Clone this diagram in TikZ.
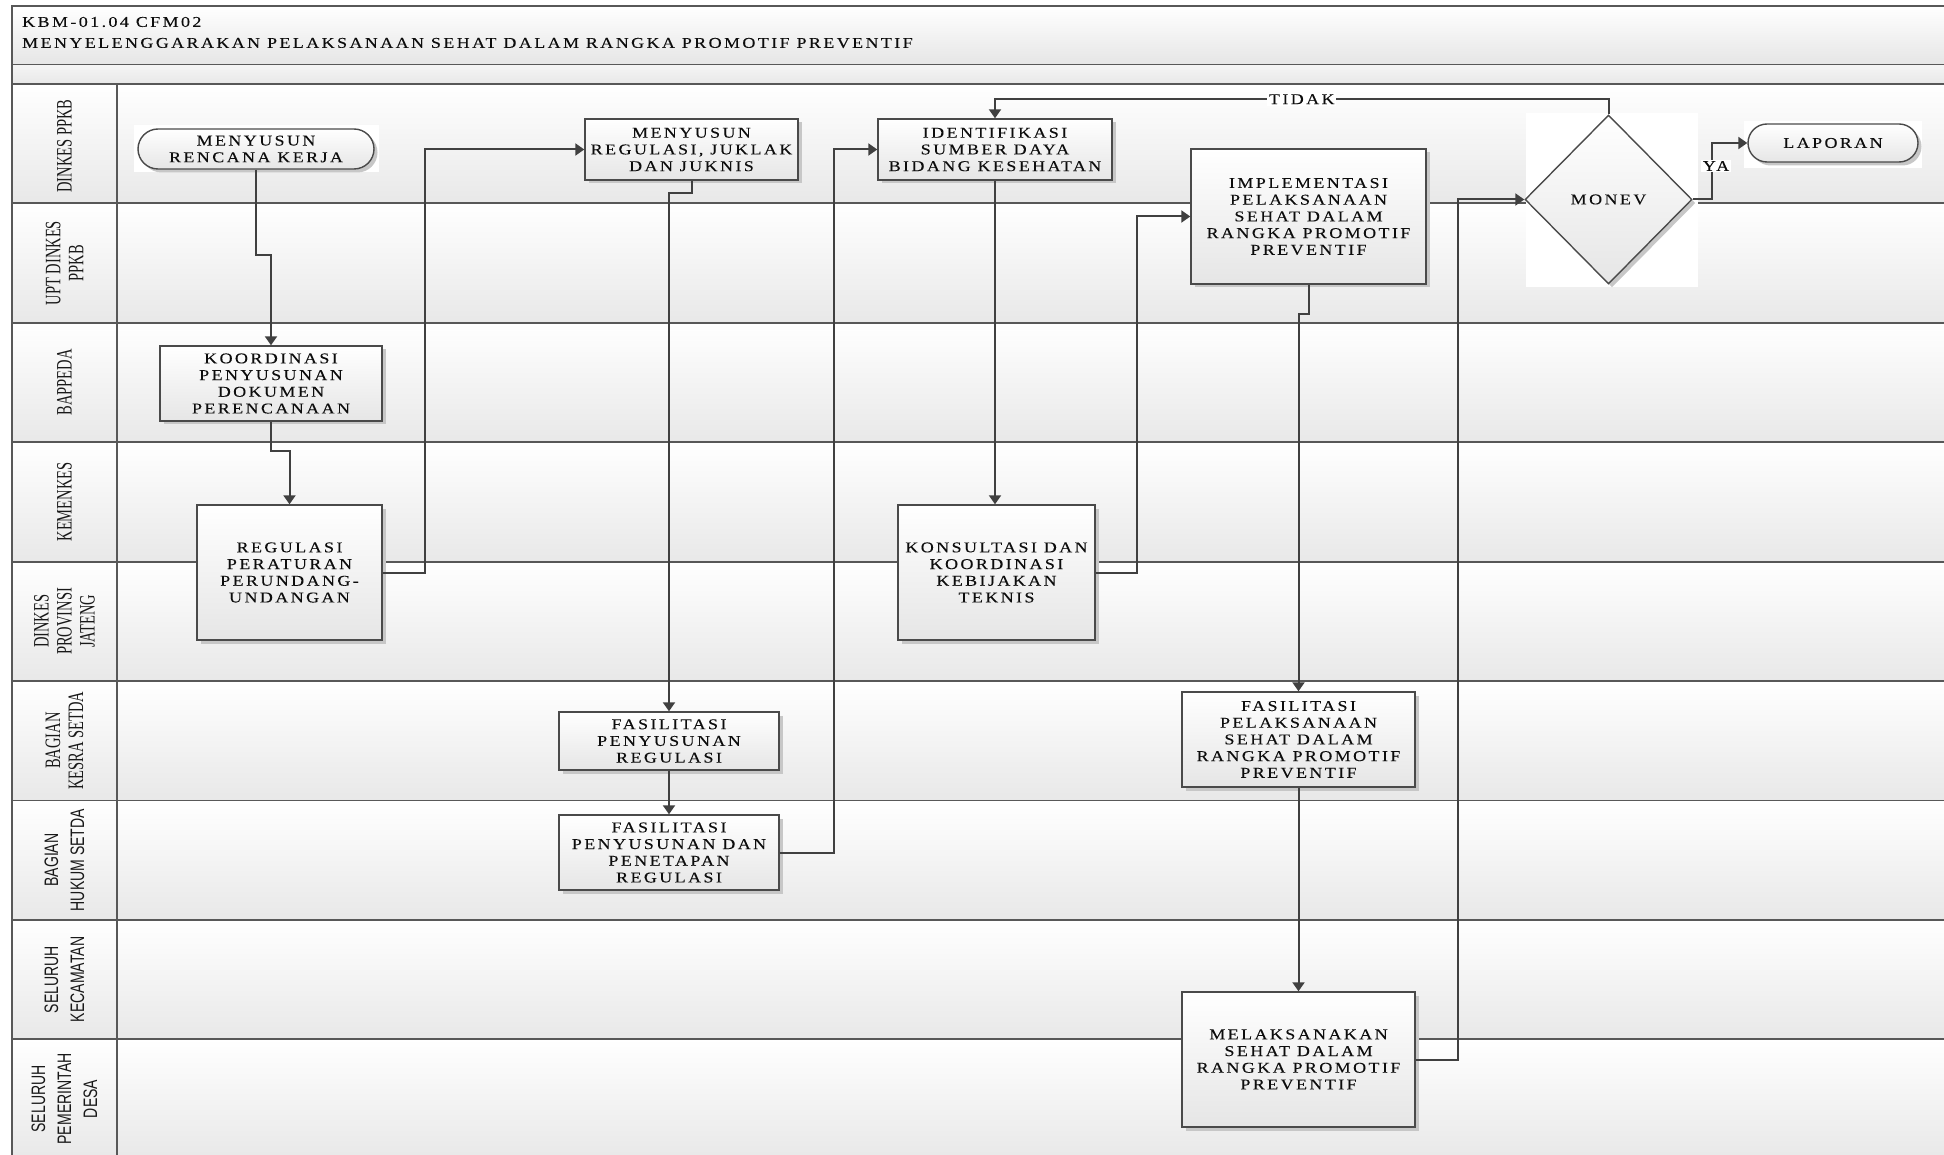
\documentclass[tikz,border=0pt]{standalone}
\usepackage{fontspec}
\setmainfont{Liberation Serif}
\newfontfamily\boxfont[LetterSpace=16,FakeStretch=1.2,FakeBold=0.1]{Liberation Serif}
\newfontfamily\laneserif[FakeStretch=0.66]{Liberation Serif}
\newfontfamily\lanesans[FakeStretch=0.72]{Liberation Sans}
\usetikzlibrary{shapes.geometric,shapes.misc,shadows,arrows.meta,calc}
\definecolor{linec}{HTML}{404040}
\definecolor{framec}{HTML}{585858}
\definecolor{boxc}{HTML}{4A4A4A}
\begin{document}
\begin{tikzpicture}[x=1pt,y=-1pt,
  frame/.style={draw=framec, line width=1.8pt},
  box/.style={draw=boxc, line width=1.4pt, top color=white, bottom color=black!10,
    align=center, inner sep=0pt, text=black!95,
    font=\boxfont\fontsize{15}{16.7}\selectfont,
    drop shadow={shadow xshift=3.5pt, shadow yshift=-3.5pt, fill=black!22, opacity=1}},
  term/.style={box, rounded rectangle},
  dia/.style={box, diamond, aspect=1},
  arr/.style={draw=linec, line width=2pt, -{Triangle[length=9pt,width=12pt]}},
  lbl/.style={fill=white, inner sep=1.5pt, text=black!95, font=\boxfont\fontsize{15}{16.7}\selectfont},
  laneS/.style={rotate=90, align=center, inner sep=0pt, text=black!90, font=\laneserif\fontsize{22}{23}\selectfont},
  laneN/.style={rotate=90, align=center, inner sep=0pt, text=black!90, font=\lanesans\fontsize{19.5}{26}\selectfont}
]
\useasboundingbox (0,0) rectangle (1944,1155);
% backgrounds
\shade[top color=white, bottom color=black!10] (12,6) rectangle (1944,64.5);
\shade[top color=black!4, bottom color=black!9] (12,64.5) rectangle (1944,84);
\foreach \k in {0,...,8} {
  \shade[top color=white, bottom color=black!9] (12,{84+119.4*\k}) rectangle (1944,{84+119.4*(\k+1)});
}
% frame lines
\draw[frame] (1944,6) -- (12,6) -- (12,1165);
\draw[frame] (12,64.5) -- (1944,64.5);
\foreach \k in {0,...,8} {
  \draw[frame] (12,{84+119.4*\k}) -- (1944,{84+119.4*\k});
}
\draw[frame] (117,84) -- (117,1165);
% title
\node[anchor=west, inner sep=0pt, text=black!95, font=\boxfont\fontsize{15}{16.7}\selectfont] (T1) at (22,22) {KBM-01.04 CFM02};
\node[anchor=west, inner sep=0pt, text=black!95, font=\boxfont\fontsize{15}{16.7}\selectfont] (T2) at (22,43) {MENYELENGGARAKAN PELAKSANAAN SEHAT DALAM RANGKA PROMOTIF PREVENTIF};
% lane labels
\node[laneS] (L1) at (64.5,146) {DINKES PPKB};
\node[laneS] (L2) at (64.5,263.1) {UPT DINKES\\PPKB};
\node[laneS] (L3) at (64.5,382.5) {BAPPEDA};
\node[laneS] (L4) at (64.5,501.9) {KEMENKES};
\node[laneS] (L5) at (64.5,621.3) {DINKES\\PROVINSI\\JATENG};
\node[laneS] (L6) at (64.5,740.7) {BAGIAN\\KESRA SETDA};
\node[laneN] (L7) at (64.5,860.1) {BAGIAN\\HUKUM SETDA};
\node[laneN] (L8) at (64.5,979.5) {SELURUH\\KECAMATAN};
\node[laneN] (L9) at (64.5,1098.9) {SELURUH\\PEMERINTAH\\DESA};
% white patches behind terminals and decision
\fill[white] (134,125) rectangle (379,172);
\fill[white] (1526,113) rectangle (1698,287);
\fill[white] (1744,121) rectangle (1922,168);
% nodes
\node[term, minimum width=236pt, minimum height=40pt] (A) at (256,149) {MENYUSUN\\RENCANA KERJA};
\node[box, minimum width=213pt, minimum height=61pt] (B) at (691.5,149.5) {MENYUSUN\\REGULASI, JUKLAK\\DAN JUKNIS};
\node[box, minimum width=234pt, minimum height=61pt] (C) at (995,149.5) {IDENTIFIKASI\\SUMBER DAYA\\BIDANG KESEHATAN};
\node[box, minimum width=235pt, minimum height=135pt] (D) at (1308.5,216.5) {IMPLEMENTASI\\PELAKSANAAN\\SEHAT DALAM\\RANGKA PROMOTIF\\PREVENTIF};
\node[dia, minimum width=167pt, minimum height=169pt] (E) at (1608.5,199.5) {MONEV};
\node[term, minimum width=170pt, minimum height=38pt] (F) at (1833,143) {LAPORAN};
\node[box, minimum width=222pt, minimum height=75pt] (G) at (271,383.5) {KOORDINASI\\PENYUSUNAN\\DOKUMEN\\PERENCANAAN};
\node[box, minimum width=185pt, minimum height=135pt] (H) at (289.5,572.5) {REGULASI\\PERATURAN\\PERUNDANG-\\UNDANGAN};
\node[box, minimum width=197pt, minimum height=135pt] (I) at (996.5,572.5) {KONSULTASI DAN\\KOORDINASI\\KEBIJAKAN\\TEKNIS};
\node[box, minimum width=220pt, minimum height=58pt] (J) at (669,741) {FASILITASI\\PENYUSUNAN\\REGULASI};
\node[box, minimum width=220pt, minimum height=75pt] (K) at (669,852.5) {FASILITASI\\PENYUSUNAN DAN\\PENETAPAN\\REGULASI};
\node[box, minimum width=233pt, minimum height=95pt] (L) at (1298.5,739.5) {FASILITASI\\PELAKSANAAN\\SEHAT DALAM\\RANGKA PROMOTIF\\PREVENTIF};
\node[box, minimum width=233pt, minimum height=135pt] (M) at (1298.5,1059.5) {MELAKSANAKAN\\SEHAT DALAM\\RANGKA PROMOTIF\\PREVENTIF};
% connectors
\coordinate (c1) at (0,255.4);
\draw[arr] (A.south) -- (A.south |- c1) -| (G.north);
\coordinate (c2) at (0,451);
\draw[arr] (G.south) -- (G.south |- c2) -| (H.north);
\coordinate (c3) at (425,0);
\draw[arr] (H.east) -- (H.east -| c3) |- (B.west);
\coordinate (c4) at (0,193.4);
\draw[arr] (B.south) -- (B.south |- c4) -| (J.north);
\draw[arr] (J.south) -- (K.north);
\coordinate (c5) at (834.4,0);
\draw[arr] (K.east) -- (K.east -| c5) |- (C.west);
\draw[arr] (C.south) -- (C.south |- I.north);
\coordinate (c6) at (1137,0);
\draw[arr] (I.east) -- (I.east -| c6) |- (D.west);
\coordinate (c7) at (0,313.7);
\draw[arr] (D.south) -- (D.south |- c7) -| (L.north);
\draw[arr] (L.south) -- (L.south |- M.north);
\coordinate (c8) at (1458,0);
\draw[arr] (M.east) -- (M.east -| c8) |- (E.west);
\coordinate (c9) at (0,99.2);
\draw[arr] (E.north) -- (E.north |- c9) -| (C.north) node[lbl, pos=0.25] (tidak) {TIDAK};
\coordinate (c10) at (1712,0);
\draw[arr] (E.east) -- (E.east -| c10) |- (F.west);
\node[lbl] (ya) at (1716,166) {YA};
\end{tikzpicture}
\end{document}
